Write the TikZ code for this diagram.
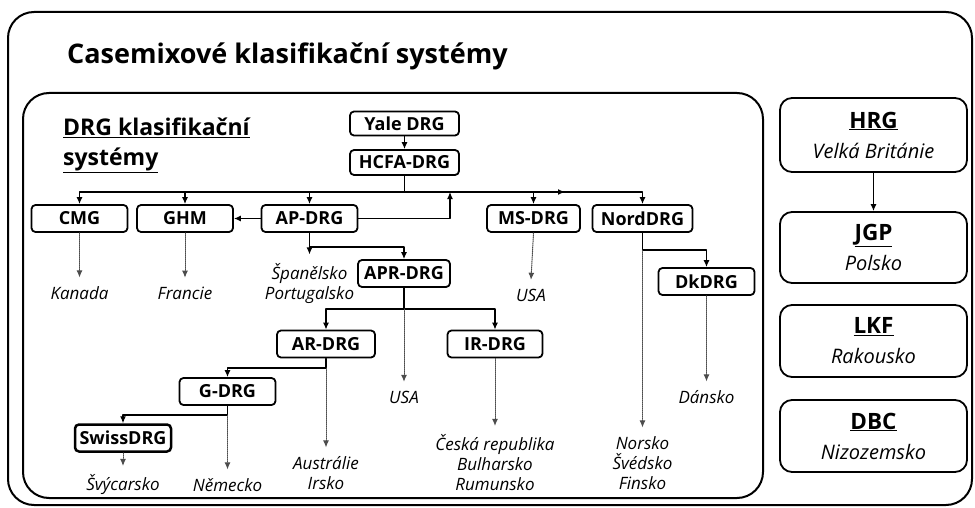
\documentclass[tikz,border=0pt]{standalone}
\usepackage{fontspec}
\setmainfont{Open Sans}
\usepackage{tikz}
\usetikzlibrary{arrows.meta,positioning}

\newcommand{\sysname}[1]{{\fontsize{22.5}{26}\selectfont\bfseries\underline{#1}}}
\newcommand{\sysland}[1]{{\fontsize{20}{24}\selectfont\itshape #1}}

\begin{document}
\begin{tikzpicture}[
  x=1pt,y=-1pt,
  line cap=round,
  line join=round,
  >={Latex[length=7pt,width=6pt]},
  frame/.style={draw=black,line width=2pt,rounded corners=26pt},
  drgbox/.style={draw=black,line width=1.8pt,rounded corners=4pt,
    minimum width=96pt,minimum height=27pt,inner sep=1pt,
    font=\fontsize{18}{20}\selectfont\bfseries},
  sidebox/.style={draw=black,line width=1.8pt,rounded corners=12pt,
    minimum width=187pt,minimum height=72pt,align=center,
    font=\fontsize{20}{30}\selectfont},
  country/.style={font=\fontsize{17}{20}\selectfont\itshape,
    align=center,inner sep=1pt,outer sep=8pt},
  link/.style={black,line width=1.2pt},
  origin/.style={gray!60!black,densely dotted,line width=1pt}
]
\path[use as bounding box] (0,0) rectangle (975,508);

% frames
\draw[frame] (8,12) rectangle (972,505);
\draw[frame] (23,93) rectangle (763,498);

\node[anchor=base west,inner sep=0pt,
  font=\fontsize{27}{30}\selectfont\bfseries] (title) at (67,64)
  {Casemixové klasifikační systémy};
\node[anchor=north west,inner sep=0pt,align=left,
  font=\fontsize{23}{30}\selectfont\bfseries] (drglabel) at (63,117.5)
  {\underline{DRG klasifikační}\\\underline{systémy}};

% DRG family
\node[drgbox,minimum width=109pt,minimum height=24pt] (yale) at (404.5,123.5) {Yale DRG};
\node[drgbox,minimum width=109pt,minimum height=25pt] (hcfa) at (404.5,162.5) {HCFA-DRG};
\node[drgbox] (cmg) at (79.5,218.5) {CMG};
\node[drgbox] (ghm) at (185,218.5) {GHM};
\node[drgbox] (apdrg) at (309.5,218.5) {AP-DRG};
\node[drgbox,minimum width=93pt] (msdrg) at (533.5,218.5) {MS-DRG};
\node[drgbox,minimum width=100pt] (nord) at (642.5,218.5) {NordDRG};
\node[drgbox,minimum width=92pt] (apr) at (404,273.5) {APR-DRG};
\node[drgbox,minimum width=98pt] (ardrg) at (326,344) {AR-DRG};
\node[drgbox,minimum width=95pt] (irdrg) at (495,344) {IR-DRG};
\node[drgbox] (gdrg) at (227.5,391.5) {G-DRG};
\node[drgbox,line width=2.5pt] (swiss) at (123,438) {SwissDRG};
\node[drgbox] (dk) at (706.5,281.5) {DkDRG};

% countries
\node[country] (kan) at (79.5,293) {Kanada};
\node[country] (fra) at (185,293) {Francie};
\node[country] (spain) at (309.5,283.5) {Španělsko\\Portugalsko};
\node[country] (usaA) at (404,397) {USA};
\node[country] (usaB) at (531,295) {USA};
\node[country] (aus) at (326,473) {Austrálie\\Irsko};
\node[country] (nem) at (227.5,485) {Německo};
\node[country] (svy) at (123,485) {Švýcarsko};
\node[country] (cz) at (495,463) {Česká republika\\Bulharsko\\Rumunsko};
\node[country] (nor) at (642.5,463) {Norsko\\Švédsko\\Finsko};
\node[country] (dan) at (706.5,397) {Dánsko};

% junctions
\coordinate (bus) at (hcfa.south |- 0,192);
\coordinate (busarrow) at (565,192);
\coordinate (apjoin) at (450,192);
\coordinate (apsplit) at (309.5,247);
\coordinate (aprsplit) at (404,309);
\coordinate (arsplit) at (326,368);
\coordinate (gsplit) at (227.5,415);
\coordinate (nordsplit) at (642.5,250);

\draw[link,->] (yale) -- (hcfa);
\draw[link] (hcfa.south) -- (bus);
\foreach \child in {cmg,ghm,apdrg,msdrg,nord}
  \draw[link,->] (bus) -| (\child.north);
\draw[link,->] (bus) -- (busarrow);
\draw[link,->] (apdrg.east) -| (apjoin);
\draw[link,->] (apdrg.west) -- (ghm.east);

\draw[link] (apdrg.south) -- (apsplit);
\draw[link,->] (apsplit) -- (spain.north);
\draw[link,->] (apsplit) -| (apr.north);

\draw[link] (apr.south) -- (aprsplit);
\draw[link,->] (aprsplit) -| (ardrg.north);
\draw[link,->] (aprsplit) -| (irdrg.north);
\draw[origin,->] (aprsplit) -- (usaA.north);

\draw[link] (ardrg.south) -- (arsplit);
\draw[link,->] (arsplit) -| (gdrg.north);
\draw[origin,->] (arsplit) -- (aus.north);

\draw[link] (gdrg.south) -- (gsplit);
\draw[link,->] (gsplit) -| (swiss.north);
\draw[origin,->] (gsplit) -- (nem.north);

\draw[link] (nord.south) -- (nordsplit);
\draw[link,->] (nordsplit) -| (dk.north);
\draw[origin,->] (nordsplit) -- (nor.north);

\draw[origin,->] (cmg.south) -- (kan.north);
\draw[origin,->] (ghm.south) -- (fra.north);
\draw[origin,->] (msdrg.south) -- (usaB.north);
\draw[origin,->] (irdrg.south) -- (cz.north);
\draw[origin,->] (swiss.south) -- (svy.north);
\draw[origin,->] (dk.south) -- (dan.north);

% other systems
\node[sidebox,minimum height=74pt] (hrg) at (873.5,135)
  {\sysname{HRG}\\\sysland{Velká Británie}};
\node[sidebox,minimum height=71pt] (jgp) at (873.5,247.5)
  {\sysname{JGP}\\\sysland{Polsko}};
\node[sidebox] (lkf) at (873.5,341)
  {\sysname{LKF}\\\sysland{Rakousko}};
\node[sidebox] (dbc) at (873.5,436)
  {\sysname{DBC}\\\sysland{Nizozemsko}};
\draw[link,->] (hrg) -- (jgp);
\end{tikzpicture}
\end{document}
